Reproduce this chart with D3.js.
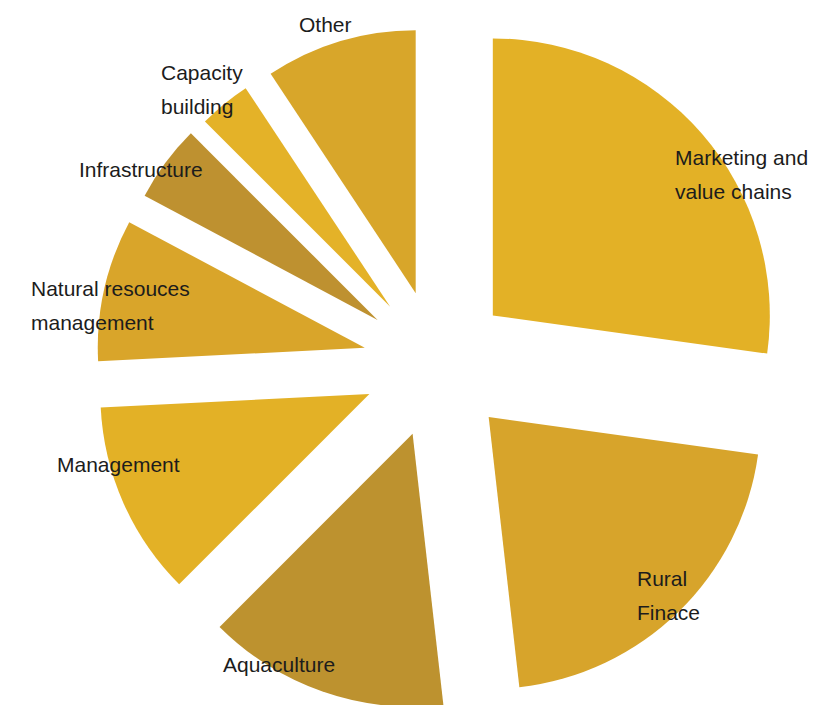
<!DOCTYPE html>
<html>
<head>
<meta charset="utf-8">
<script src="https://cdn.jsdelivr.net/npm/d3@7"></script>
<style>
  body { margin: 0; background: #fff; }
  text { font-family: "Liberation Sans", Arial, Helvetica, sans-serif; fill: #1c1c1c; }
</style>
</head>
<body>
<div id="chart"></div>
<script>
// categories and shares (percent), clockwise from 12 o'clock
var categories = ["Marketing and value chains", "Rural Finace", "Aquaculture", "Management",
                  "Natural resouces management", "Infrastructure", "Capacity building", "Other"]
var values = [27.2, 21.0, 14.3, 11.7, 8.6, 4.7, 3.2, 9.3]
var colors = ["#e3b126", "#d7a42b", "#bd922f", "#e3b126", "#d9a52a", "#be9130", "#e4b228", "#d8a62a"]
// label text, split on lines
var labelLines = [["Marketing and", "value chains"], ["Rural", "Finace"], ["Aquaculture"], ["Management"],
                  ["Natural resouces", "management"], ["Infrastructure"], ["Capacity", "building"], ["Other"]]

var width = 814, height = 705
var cx = 437, cy = 364
var explode = 74
// the slices in the original are not quite the same size
var sliceRadius = [277, 272, 273, 269, 267, 264, 262, 263]

var svg = d3.select("#chart")
    .append("svg")
    .attr("width", width)
    .attr("height", height)

var g = svg.append("g")
    .attr("transform", "translate(" + cx + "," + cy + ")")

var data = categories.map(function (c, i) {
    return { name: c, value: values[i], color: colors[i], lines: labelLines[i] }
})

var pie = d3.pie()
    .sort(null)
    .value(function (d) { return d.value })

var arc = d3.arc()
    .innerRadius(0)
    .outerRadius(function (d) { return sliceRadius[d.index] })

var arcs = pie(data)

// exploded slices: each slice pushed out along its bisector
g.selectAll("path")
    .data(arcs)
    .enter()
    .append("path")
    .attr("d", arc)
    .attr("fill", function (d) { return d.data.color })
    .attr("transform", function (d) {
        var a = (d.startAngle + d.endAngle) / 2
        return "translate(" + (explode * Math.sin(a)) + "," + (-explode * Math.cos(a)) + ")"
    })

// label placement (left edge, first baseline) in page pixels
var labelPos = [[675, 165], [637, 586], [223, 672], [57, 472], [31, 296], [79, 177], [161, 80], [299, 32]]
var lineHeight = 34

var labels = svg.selectAll("text.lbl")
    .data(arcs)
    .enter()
    .append("text")
    .attr("class", "lbl")
    .attr("x", function (d, i) { return labelPos[i][0] })
    .attr("y", function (d, i) { return labelPos[i][1] })
    .style("font-size", "21px")

labels.selectAll("tspan")
    .data(function (d, i) {
        return d.data.lines.map(function (l) { return { t: l, x: labelPos[i][0] } })
    })
    .enter()
    .append("tspan")
    .attr("x", function (d) { return d.x })
    .attr("dy", function (d, j) { return j === 0 ? 0 : lineHeight })
    .text(function (d) { return d.t })
</script>
</body>
</html>
